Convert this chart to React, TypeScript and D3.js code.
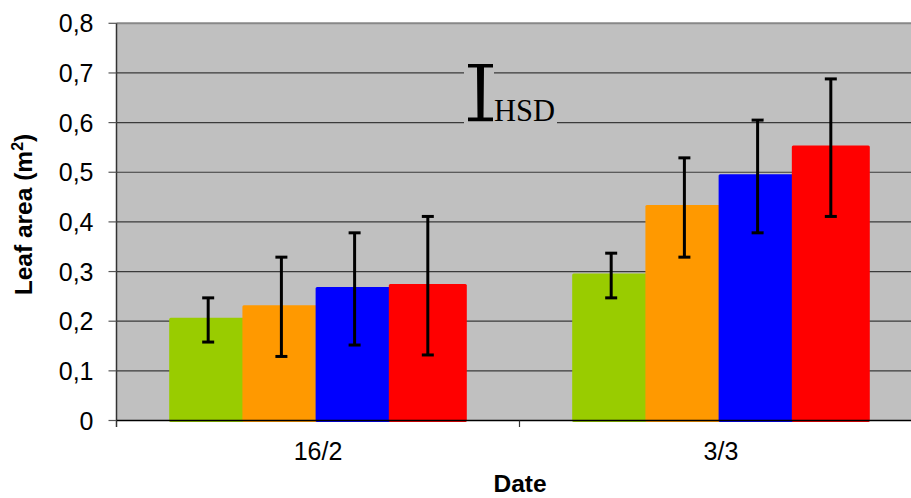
import React from "react";
import * as d3 from "d3";

const categories = ["16/2", "3/3"];
const seriesNames = ["A", "B", "C", "D"];
const seriesColors = ["#99CC00", "#FF9900", "#0000FF", "#FF0000"];
const valuesA = [0.207, 0.296];
const valuesB = [0.232, 0.434];
const valuesC = [0.269, 0.496];
const valuesD = [0.275, 0.554];
const errLowA = [0.158, 0.247];
const errLowB = [0.129, 0.329];
const errLowC = [0.152, 0.378];
const errLowD = [0.132, 0.411];
const errHighA = [0.247, 0.337];
const errHighB = [0.329, 0.529];
const errHighC = [0.378, 0.605];
const errHighD = [0.411, 0.688];
const yTicks = [0, 0.1, 0.2, 0.3, 0.4, 0.5, 0.6, 0.7, 0.8];
const yTickLabels = ["0", "0,1", "0,2", "0,3", "0,4", "0,5", "0,6", "0,7", "0,8"];

const allValues = [valuesA, valuesB, valuesC, valuesD];
const allLow = [errLowA, errLowB, errLowC, errLowD];
const allHigh = [errHighA, errHighB, errHighC, errHighD];

const W = 911;
const H = 498;
const plotLeft = 116.5;
const plotRight = 922.5;
const plotTop = 23.3;
const plotBottom = 420.5;

export default function App() {
  const x = d3.scaleBand<string>().domain(categories).range([plotLeft, plotRight]).padding(0);
  const bw = x.bandwidth();
  const inner = d3
    .scalePoint<string>()
    .domain(seriesNames)
    .range([-bw * 0.2725, bw * 0.2725]);
  const barW = bw * 0.1935;
  const y = d3.scaleLinear().domain([0, 0.8]).range([plotBottom, plotTop]);
  const font = "'Liberation Sans', Arial, sans-serif";
  const serif = "'Liberation Serif', 'Times New Roman', serif";

  return (
    <svg
      width={W}
      height={H}
      style={{ position: "absolute", left: 0, top: 0, display: "block", background: "#fff" }}
    >
      {/* plot background */}
      <rect x={plotLeft} y={plotTop} width={plotRight - plotLeft} height={plotBottom - plotTop} fill="#C0C0C0" />
      {/* gridlines */}
      {yTicks.slice(1, -1).map((t) => (
        <line key={t} x1={plotLeft} x2={plotRight} y1={y(t)} y2={y(t)} stroke="#3a3a3a" strokeWidth={1.2} />
      ))}
      <line x1={plotLeft} x2={plotRight} y1={y(0.8)} y2={y(0.8)} stroke="#888" strokeWidth={2} />

      {/* HSD annotation boxes */}
      <rect x={464} y={58} width={30} height={67} fill="#C0C0C0" />
      <rect x={494} y={95} width={63} height={30} fill="#C0C0C0" />
      <path
        d="M468,64 L493,64 L493,67.5 L484,67.5 L483.5,117.5 L493,117.5 L493,121.3 L468,121.3 L468,117.5 L477.5,117.5 L477,67.5 L468,67.5 Z"
        fill="#000"
      />
      <text x={494} y={121.3} fontFamily={serif} fontSize={30.5} fill="#000">
        HSD
      </text>

      {/* bars */}
      {seriesNames.map((s, si) =>
        categories.map((c, ci) => {
          const cx = (x(c) as number) + bw / 2 + (inner(s) as number);
          const v = allValues[si][ci];
          return (
            <rect
              key={s + c}
              x={cx - barW / 2}
              y={y(v)}
              width={barW}
              height={y(0) - y(v) + 1.5}
              fill={seriesColors[si]}
              rx={1.5}
            />
          );
        })
      )}

      {/* error bars */}
      {seriesNames.map((s, si) =>
        categories.map((c, ci) => {
          const cx = (x(c) as number) + bw / 2 + (inner(s) as number);
          const lo = y(allLow[si][ci]);
          const hi = y(allHigh[si][ci]);
          return (
            <g key={"e" + s + c} stroke="#000">
              <line x1={cx} x2={cx} y1={hi} y2={lo} strokeWidth={3} />
              <line x1={cx - 6} x2={cx + 6} y1={hi} y2={hi} strokeWidth={3} />
              <line x1={cx - 6} x2={cx + 6} y1={lo} y2={lo} strokeWidth={3} />
            </g>
          );
        })
      )}

      {/* axes */}
      <line x1={plotLeft} x2={plotLeft} y1={plotTop} y2={plotBottom + 6.5} stroke="#333" strokeWidth={1.5} />
      <line x1={plotLeft} x2={plotRight} y1={plotBottom} y2={plotBottom} stroke="#000" strokeWidth={1.5} />
      {yTicks.map((t, i) => (
        <g key={"yt" + t}>
          <line x1={108.5} x2={plotLeft} y1={y(t)} y2={y(t)} stroke="#555" strokeWidth={1.2} />
          <text x={93.5} y={y(t)} dy="0.36em" textAnchor="end" fontFamily={font} fontSize={25} fill="#000">
            {yTickLabels[i]}
          </text>
        </g>
      ))}
      {categories.map((c, i) => (
        <g key={"xt" + c}>
          {i > 0 && (
            <line x1={x(c) as number} x2={x(c) as number} y1={plotBottom} y2={plotBottom + 6.5} stroke="#333" strokeWidth={1.2} />
          )}
          <text x={(x(c) as number) + bw / 2} y={460} textAnchor="middle" fontFamily={font} fontSize={25} fill="#000">
            {c}
          </text>
        </g>
      ))}

      {/* titles */}
      <text x={520} y={492} textAnchor="middle" fontFamily={font} fontWeight="bold" fontSize={24.5} fill="#000">
        Date
      </text>
      <text
        transform={`translate(32,214.5) rotate(-90)`}
        textAnchor="middle"
        fontFamily={font}
        fontWeight="bold"
        fontSize={24.5}
        fill="#000"
      >
        Leaf area (m<tspan fontSize={16} dy={-9}>2</tspan>
        <tspan dy={9}>)</tspan>
      </text>
    </svg>
  );
}
